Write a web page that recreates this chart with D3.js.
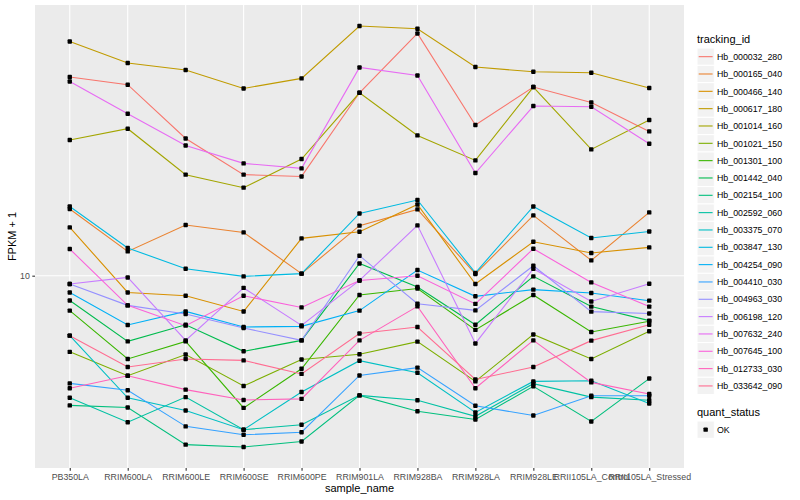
<!DOCTYPE html>
<html>
<head>
<meta charset="utf-8">
<script src="https://cdn.jsdelivr.net/npm/d3@7"></script>
<style>
  body { margin: 0; background: #fff; }
  text { font-family: "Liberation Sans", Arial, Helvetica, sans-serif; }
</style>
</head>
<body>
<svg id="chart" width="800" height="500"></svg>
<script>
// samples on the x axis
const sampleNames = ['PB350LA', 'RRIM600LA', 'RRIM600LE', 'RRIM600SE', 'RRIM600PE', 'RRIM901LA',
  'RRIM928BA', 'RRIM928LA', 'RRIM928LE', 'RRII105LA_Control', 'RRII105LA_Stressed'];

const trackingIds = ['Hb_000032_280', 'Hb_000165_040', 'Hb_000466_140', 'Hb_000617_180', 'Hb_001014_160',
  'Hb_001021_150', 'Hb_001301_100', 'Hb_001442_040', 'Hb_002154_100', 'Hb_002592_060', 'Hb_003375_070',
  'Hb_003847_130', 'Hb_004254_090', 'Hb_004410_030', 'Hb_004963_030', 'Hb_006198_120', 'Hb_007632_240',
  'Hb_007645_100', 'Hb_012733_030', 'Hb_033642_090'];

const quantStatus = ['OK'];
const yTicks = [10];

// FPKM + 1 per sample
const hb_000032_280 = [31.39, 30.03, 22.04, 17.89, 17.71, 28.67, 40.34, 23.81, 29.63, 27.12, 22.95];
const hb_000165_040 = [14.68, 11.50, 13.39, 12.83, 10.12, 13.34, 14.65, 10.10, 14.15, 10.92, 14.40];
const hb_000466_140 = [13.21, 9.08, 8.91, 8.14, 12.40, 12.88, 15.07, 9.53, 12.16, 11.40, 11.77];
const hb_000617_180 = [38.53, 34.02, 32.68, 29.39, 31.14, 42.10, 41.45, 33.25, 32.36, 32.17, 29.46];
const hb_001014_160 = [21.84, 23.31, 17.89, 16.60, 19.58, 28.67, 22.43, 19.42, 29.63, 20.69, 24.50];
const hb_001021_150 = [6.45, 5.62, 6.35, 5.30, 6.17, 6.36, 6.84, 5.44, 7.13, 6.19, 7.26];
const hb_001301_100 = [8.18, 6.19, 6.85, 4.67, 5.85, 8.95, 9.29, 7.32, 8.95, 7.23, 7.69];
const hb_001442_040 = [8.67, 6.85, 7.54, 6.47, 6.89, 10.73, 9.37, 7.54, 9.96, 8.37, 7.72];
const hb_002154_100 = [4.74, 4.68, 3.78, 3.73, 3.85, 5.02, 4.58, 4.37, 5.29, 4.32, 5.53];
const hb_002592_060 = [4.95, 4.30, 4.97, 4.12, 4.24, 5.02, 4.88, 4.45, 5.37, 4.97, 4.88];
const hb_003375_070 = [7.08, 4.95, 4.60, 4.12, 5.12, 6.13, 5.72, 4.55, 5.44, 5.46, 4.79];
const hb_003847_130 = [14.90, 11.73, 10.41, 9.96, 10.12, 14.31, 15.46, 10.16, 14.90, 12.42, 12.90];
const hb_004254_090 = [9.08, 7.53, 8.14, 7.44, 7.47, 8.18, 10.33, 8.88, 9.23, 9.05, 8.66];
const hb_004410_030 = [5.38, 5.17, 4.20, 4.00, 4.06, 5.63, 5.89, 4.73, 4.47, 5.01, 5.01];
const hb_004963_030 = [9.53, 8.43, 8.02, 7.40, 6.89, 11.22, 8.51, 8.19, 10.59, 8.13, 8.04];
const hb_006198_120 = [9.53, 9.90, 6.89, 9.32, 7.51, 9.73, 13.36, 6.77, 10.41, 8.62, 9.55];
const hb_007632_240 = [30.60, 25.41, 21.17, 19.09, 18.55, 33.17, 31.68, 18.06, 26.56, 26.45, 21.38];
const hb_007645_100 = [11.66, 8.43, 7.50, 8.91, 8.33, 9.73, 10.00, 8.50, 11.68, 9.62, 8.37];
const hb_012733_030 = [5.23, 5.62, 5.19, 4.89, 4.92, 6.89, 8.38, 5.23, 6.89, 5.41, 5.06];
const hb_033642_090 = [7.08, 5.91, 6.19, 6.14, 5.68, 7.17, 7.44, 5.50, 5.91, 6.88, 7.54];

const seriesValues = [hb_000032_280, hb_000165_040, hb_000466_140, hb_000617_180, hb_001014_160,
  hb_001021_150, hb_001301_100, hb_001442_040, hb_002154_100, hb_002592_060, hb_003375_070,
  hb_003847_130, hb_004254_090, hb_004410_030, hb_004963_030, hb_006198_120, hb_007632_240,
  hb_007645_100, hb_012733_030, hb_033642_090];

// ggplot default hue palette for 20 levels
const palette = ['#F8766D', '#EA8331', '#D89000', '#C09B00', '#A3A500', '#7CAE00', '#39B600', '#00BB4E',
  '#00BF7D', '#00C1A3', '#00BFC4', '#00BAE0', '#00B0F6', '#35A2FF', '#9590FF', '#C77CFF', '#E76BF3',
  '#FA62DB', '#FF62BC', '#FF6C91'];

const panel = { left: 35, right: 684, top: 5, bottom: 468 };
const svg = d3.select('#chart');

const x = d3.scalePoint()
  .domain(sampleNames)
  .range([panel.left, panel.right])
  .padding(0.6);

// log scale with ggplot's 5% expansion
const all = seriesValues.flat();
const lo = Math.log10(d3.min(all));
const hi = Math.log10(d3.max(all));
const pad = (hi - lo) * 0.05;
const y = d3.scaleLog()
  .domain([Math.pow(10, lo - pad), Math.pow(10, hi + pad)])
  .range([panel.bottom, panel.top]);

const color = d3.scaleOrdinal().domain(trackingIds).range(palette);

// panel + grid
svg.append('rect')
  .attr('x', panel.left).attr('y', panel.top)
  .attr('width', panel.right - panel.left).attr('height', panel.bottom - panel.top)
  .attr('fill', '#EBEBEB');

const grid = svg.append('g');
grid.selectAll('line.v').data(sampleNames).join('line')
  .attr('x1', d => x(d)).attr('x2', d => x(d))
  .attr('y1', panel.top).attr('y2', panel.bottom)
  .attr('stroke', '#fff').attr('stroke-width', 1.1);
grid.selectAll('line.h').data(yTicks).join('line')
  .attr('x1', panel.left).attr('x2', panel.right)
  .attr('y1', d => y(d)).attr('y2', d => y(d))
  .attr('stroke', '#fff').attr('stroke-width', 1.1);

// lines
const line = d3.line()
  .x((d, i) => x(sampleNames[i]))
  .y(d => y(d));

svg.append('g').selectAll('path').data(seriesValues).join('path')
  .attr('d', line)
  .attr('fill', 'none')
  .attr('stroke', (d, i) => color(trackingIds[i]))
  .attr('stroke-width', 1.1);

// points
const pts = seriesValues.flatMap(vals => vals.map((v, i) => ({ s: sampleNames[i], v })));
svg.append('g').selectAll('rect').data(pts).join('rect')
  .attr('x', d => x(d.s) - 2.2).attr('y', d => y(d.v) - 2.2)
  .attr('width', 4.4).attr('height', 4.4).attr('rx', 0.9)
  .attr('fill', '#000');

// axes
const xAxis = svg.append('g')
  .attr('transform', `translate(0,${panel.bottom})`)
  .call(d3.axisBottom(x).tickSize(2.7).tickPadding(3));
const yAxis = svg.append('g')
  .attr('transform', `translate(${panel.left},0)`)
  .call(d3.axisLeft(y).tickValues(yTicks).tickFormat(d3.format('d')).tickSize(2.7).tickPadding(2.5));

[xAxis, yAxis].forEach(a => {
  a.select('.domain').remove();
  a.selectAll('.tick line').attr('stroke', '#333333').attr('stroke-width', 1.1);
  a.selectAll('.tick text')
    .attr('fill', '#4D4D4D')
    .style('font-size', '8.8px')
    .style('font-family', '"Liberation Sans", Arial, sans-serif');
});

svg.append('text')
  .attr('x', (panel.left + panel.right) / 2).attr('y', 492)
  .attr('text-anchor', 'middle')
  .style('font-size', '11px')
  .text('sample_name');

svg.append('text')
  .attr('transform', `translate(16,${(panel.top + panel.bottom) / 2}) rotate(-90)`)
  .attr('text-anchor', 'middle')
  .style('font-size', '11px')
  .text('FPKM + 1');

// legend: tracking_id
const legend = svg.append('g').attr('transform', 'translate(697,0)');
legend.append('text')
  .attr('x', 0).attr('y', 43)
  .style('font-size', '11px')
  .text('tracking_id');

const keyH = 17.33;
const keys = legend.selectAll('g.key').data(trackingIds).join('g')
  .attr('transform', (d, i) => `translate(0,${48 + i * keyH})`);
keys.append('rect')
  .attr('width', 17.3).attr('height', keyH)
  .attr('fill', '#F2F2F2').attr('stroke', '#fff');
keys.append('line')
  .attr('x1', 1.7).attr('x2', 15.6)
  .attr('y1', keyH / 2).attr('y2', keyH / 2)
  .attr('stroke', d => color(d)).attr('stroke-width', 1.1);
keys.append('text')
  .attr('x', 20).attr('y', keyH / 2 + 3.2)
  .style('font-size', '8.8px')
  .text(d => d);

// legend: quant_status
const legend2 = svg.append('g').attr('transform', 'translate(697,0)');
legend2.append('text')
  .attr('x', 0).attr('y', 416)
  .style('font-size', '11px')
  .text('quant_status');
const k2 = legend2.selectAll('g.key').data(quantStatus).join('g')
  .attr('transform', 'translate(0,421)');
k2.append('rect')
  .attr('width', 17.3).attr('height', keyH)
  .attr('fill', '#F2F2F2').attr('stroke', '#fff');
k2.append('rect')
  .attr('x', 8.65 - 2.2).attr('y', keyH / 2 - 2.2)
  .attr('width', 4.4).attr('height', 4.4).attr('rx', 0.9)
  .attr('fill', '#000');
k2.append('text')
  .attr('x', 20).attr('y', keyH / 2 + 3.2)
  .style('font-size', '8.8px')
  .text(d => d);
</script>
</body>
</html>
